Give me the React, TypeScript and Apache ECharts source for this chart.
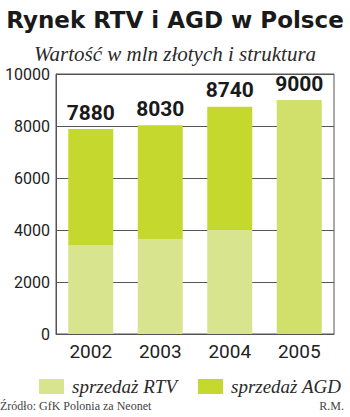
import React, { useEffect, useRef } from "react";
import * as echarts from "echarts";

const categories = ["2002", "2003", "2004", "2005"];
const rtvValues: (number | string)[] = [3400, 3640, 4000, "-"];
const agdValues: (number | string)[] = [4480, 4390, 4740, "-"];
const total2005: (number | string)[] = ["-", "-", "-", 9000];
const totals = [7880, 8030, 8740, 9000];
const yTicks = [0, 2000, 4000, 6000, 8000, 10000];

const SANS = "Roboto, 'Liberation Sans', sans-serif";
const SERIF = "'Liberation Serif', 'DejaVu Serif', serif";

export default function App() {
  const ref = useRef<HTMLDivElement>(null);
  useEffect(() => {
    document.body.style.margin = "0";
    const chart = echarts.init(ref.current!, null, { renderer: "svg" });
    const labelStyle = {
      show: true,
      position: "top" as const,
      distance: 6,
      fontFamily: SANS,
      fontWeight: "bold" as const,
      fontSize: 21,
      color: "#1a1a1a",
    };
    const legendText = { fontFamily: SERIF, fontStyle: "italic", fontSize: 19, color: "#2a2a2a", padding: [0, 0, 0, 3] };
    chart.setOption({
      animation: false,
      backgroundColor: "#ffffff",
      title: [
        {
          text: "Rynek RTV i AGD w Polsce",
          left: "center",
          top: 3,
          textStyle: { fontFamily: "'DejaVu Sans', 'Liberation Sans', sans-serif", fontWeight: "bold", fontSize: 23, color: "#1a1a1a" },
        },
        {
          text: "Wartość w mln złotych i struktura",
          left: "center",
          top: 38,
          textStyle: { fontFamily: SERIF, fontStyle: "italic", fontWeight: "normal", fontSize: 21, color: "#2a2a2a" },
        },
      ],
      legend: [
        {
          data: ["sprzedaż RTV"],
          left: 34,
          top: 372,
          itemWidth: 25,
          itemHeight: 15,
          icon: "rect",
          textStyle: legendText,
        },
        {
          data: ["sprzedaż AGD"],
          left: 193,
          top: 372,
          itemWidth: 25,
          itemHeight: 15,
          icon: "rect",
          textStyle: legendText,
        },
      ],
      graphic: [
        {
          type: "text",
          left: 0,
          top: 400,
          style: { text: "Źródło: GfK Polonia za Neonet", font: "12px " + SERIF, fill: "#444" },
        },
        {
          type: "text",
          right: 6,
          top: 400,
          style: { text: "R.M.", font: "12px " + SERIF, fill: "#444" },
        },
      ],
      grid: {
        left: 56,
        right: 16,
        top: 74,
        bottom: 83,
        show: true,
        borderColor: "#555",
        borderWidth: 1,
      },
      xAxis: {
        type: "category",
        data: categories,
        axisLine: { show: true, lineStyle: { color: "#555" } },
        axisTick: { show: false },
        axisLabel: { fontFamily: SANS, fontSize: 19, color: "#222", margin: 8 },
      },
      yAxis: {
        type: "value",
        min: yTicks[0],
        max: yTicks[yTicks.length - 1],
        interval: 2000,
        axisLine: { show: true, lineStyle: { color: "#555" } },
        axisTick: { show: false },
        splitLine: { show: true, lineStyle: { color: "#555", width: 1 } },
        axisLabel: { fontFamily: SANS, fontSize: 16, color: "#222", margin: 6, formatter: (v: number) => String(v) },
      },
      series: [
        {
          name: "sprzedaż RTV",
          type: "bar",
          stack: "total",
          barWidth: 45,
          data: rtvValues,
          itemStyle: { color: "#d8e48e" },
        },
        {
          name: "sprzedaż AGD",
          type: "bar",
          stack: "total",
          barWidth: 45,
          data: agdValues,
          itemStyle: { color: "#c5d82e" },
          label: { ...labelStyle, formatter: (p: any) => String(totals[p.dataIndex]) },
        },
        {
          name: "razem",
          type: "bar",
          stack: "total",
          barWidth: 45,
          data: total2005,
          itemStyle: { color: "#d1e06a" },
          label: { ...labelStyle, formatter: (p: any) => String(totals[p.dataIndex]) },
        },
      ],
    });
    return () => chart.dispose();
  }, []);
  return <div ref={ref} style={{ width: 350, height: 417, position: "absolute", left: 0, top: 0 }} />;
}
